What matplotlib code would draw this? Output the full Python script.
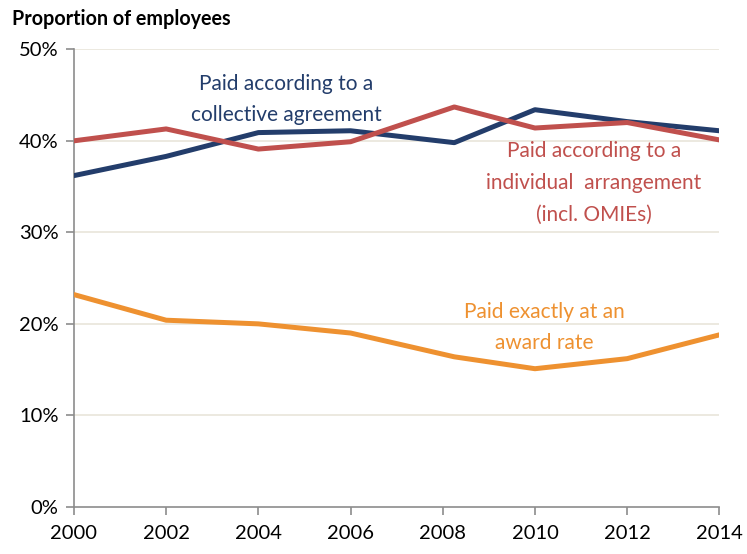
import matplotlib.pyplot as plt
from matplotlib.ticker import FuncFormatter

plt.rcParams['font.family'] = ['Lato', 'DejaVu Sans']

# survey years (the 2008 wave was fielded a little later in the year)
years = [2000, 2002, 2004, 2006, 2008.25, 2010, 2012, 2014]
collective = [36.2, 38.3, 40.9, 41.1, 39.8, 43.4, 42.1, 41.1]
individual = [40.0, 41.3, 39.1, 39.9, 43.7, 41.4, 42.0, 40.1]
award = [23.2, 20.4, 20.0, 19.0, 16.4, 15.1, 16.2, 18.8]

x_ticks = [2000, 2002, 2004, 2006, 2008, 2010, 2012, 2014]
y_ticks = [0, 10, 20, 30, 40, 50]

blue = '#233D6B'
red = '#C0504D'
orange = '#EE9130'

fig = plt.figure(figsize=(7.47, 5.54), dpi=100)
ax = fig.add_axes([0.099, 0.085, 0.864, 0.826])

for y in y_ticks[1:]:
    ax.axhline(y, color='#E9E5DA', lw=1.2, zorder=1)

ax.plot(years, collective, color=blue, lw=3.6, solid_capstyle='round', zorder=3)
ax.plot(years, individual, color=red, lw=3.6, solid_capstyle='round', zorder=3)
ax.plot(years, award, color=orange, lw=3.6, solid_capstyle='round', zorder=3)

ax.set_xlim(2000, 2014)
ax.set_ylim(0, 50)
ax.set_xticks(x_ticks)
ax.set_yticks(y_ticks)
ax.yaxis.set_major_formatter(FuncFormatter(lambda v, p: f'{v:.0f}%'))

for s in ['top', 'right']:
    ax.spines[s].set_visible(False)
for s in ['left', 'bottom']:
    ax.spines[s].set_color('#8C8C8C')
    ax.spines[s].set_linewidth(1.2)
ax.tick_params(axis='both', colors='#8C8C8C', length=6, width=1.2,
               labelsize=14.5, labelcolor='black')
ax.tick_params(axis='x', pad=7)
ax.tick_params(axis='y', pad=5)

ax.text(2004.6, 44.5, 'Paid according to a\ncollective agreement', color=blue,
        fontsize=15, ha='center', va='center', linespacing=1.72)
ax.text(2011.28, 35.4, 'Paid according to a\nindividual  arrangement\n(incl. OMIEs)',
        color=red, fontsize=15, ha='center', va='center', linespacing=1.72)
ax.text(2010.2, 19.6, 'Paid exactly at an\naward rate', color=orange,
        fontsize=15, ha='center', va='center', linespacing=1.72)

fig.text(0.016, 0.965, 'Proportion of employees', fontsize=14.2, fontweight='bold',
         ha='left', va='center')

fig.savefig('out.png', dpi=100)
